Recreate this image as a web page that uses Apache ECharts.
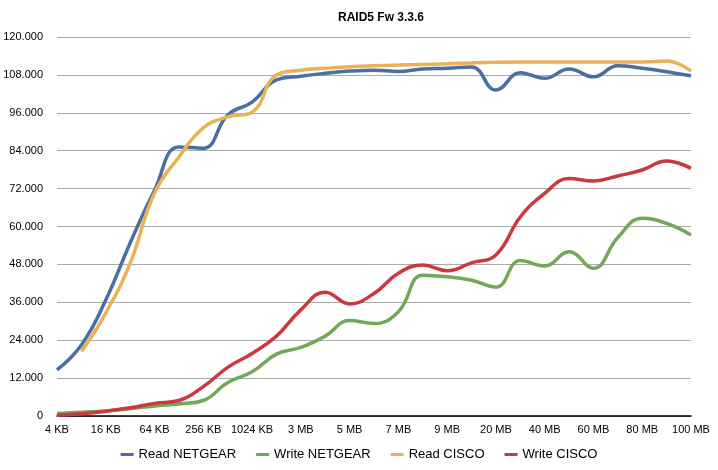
<!DOCTYPE html>
<html>
<head>
<meta charset="utf-8">
<script src="https://cdn.jsdelivr.net/npm/echarts@6/dist/echarts.min.js"></script>
<style>html,body{margin:0;padding:0;background:#fff}#c{width:718px;height:470px}</style>
</head>
<body>
<div id="c"></div>
<script>
const categories = ['4 KB','8 KB','16 KB','32 KB','64 KB','128 KB','256 KB','512 KB','1024 KB','2 MB','3 MB','4 MB','5 MB','6 MB','7 MB','8 MB','9 MB','10 MB','20 MB','30 MB','40 MB','50 MB','60 MB','70 MB','80 MB','90 MB','100 MB'];
const readNetgear = [14600,22500,36700,54800,71500,85200,84800,95300,99400,106400,107600,108500,109200,109500,109100,109900,110100,110500,103200,108700,106900,109900,107400,110900,110100,109000,107700];
const writeNetgear = [800,1200,1600,2300,3200,3800,4900,10600,14000,19600,21700,25300,30200,29300,33000,44600,44100,43000,40800,49200,47500,52000,46800,56500,62600,61000,57300];
const readCisco = [null,20400,32600,48400,70600,82000,91200,94700,96200,108000,109500,110100,110600,110900,111100,111300,111500,111800,112000,112100,112100,112100,112100,112100,112100,112400,109200];
const writeCisco = [200,700,1500,2600,4000,4900,9300,15400,19800,25300,33600,39200,35500,38800,45200,47800,46000,48500,51000,63000,70500,75200,74400,76000,77900,80700,78400];
const yTicks = {min:0, max:120000, interval:12000};

const fmt = v => v === 0 ? '0' : String(v).replace(/\B(?=(\d{3})+(?!\d))/g, '.');
const font = 'Liberation Sans, Arial, sans-serif';
const chart = echarts.init(document.getElementById('c'));
function s(name, data, color) {
  return {name, type:'line', data, smooth:0.45, symbol:'none', connectNulls:false,
    lineStyle:{width:3.5, color}, itemStyle:{color}};
}
chart.setOption({
  animation:false,
  title:{text:'RAID5 Fw 3.3.6', left:376, top:7, textAlign:'center',
    textStyle:{fontFamily:font, fontSize:12, fontWeight:'bold', color:'#000'}},
  grid:{left:57, right:27, top:37, bottom:54, containLabel:false},
  legend:{bottom:4, itemWidth:13, itemHeight:3, itemGap:20, icon:'rect',
    textStyle:{fontFamily:font, fontSize:13, color:'#000'},
    data:['Read NETGEAR','Write NETGEAR','Read CISCO','Write CISCO']},
  xAxis:{type:'category', data:categories, boundaryGap:false,
    axisLine:{lineStyle:{color:'#000', width:1.5}}, axisTick:{show:false},
    axisLabel:{interval:1, fontFamily:font, fontSize:11, color:'#000', margin:8}},
  yAxis:{type:'value', min:yTicks.min, max:yTicks.max, interval:yTicks.interval,
    axisLine:{show:false}, axisTick:{show:false},
    splitLine:{lineStyle:{color:'#aaaaaa', width:1}},
    axisLabel:{formatter:fmt, fontFamily:font, fontSize:11, color:'#000', margin:14}},
  series:[
    s('Read NETGEAR', readNetgear, '#4a6fa3'),
    s('Write NETGEAR', writeNetgear, '#72a858'),
    s('Read CISCO', readCisco, '#e9b257'),
    s('Write CISCO', writeCisco, '#c83a3f')
  ]
});
</script>
</body>
</html>
